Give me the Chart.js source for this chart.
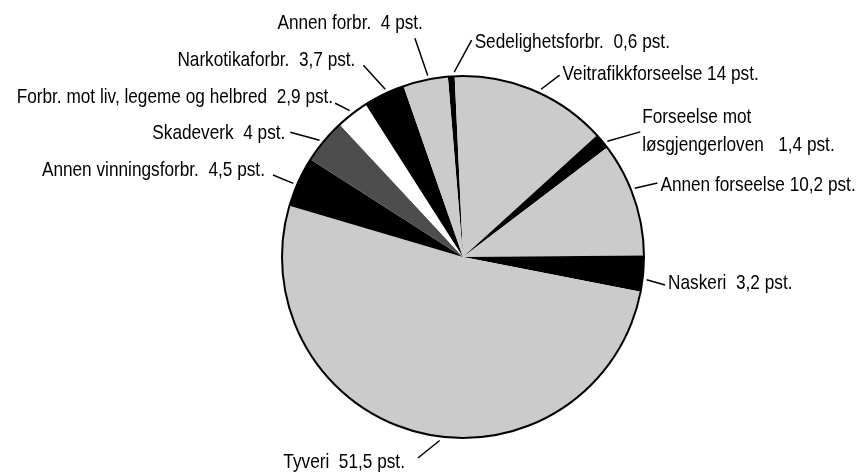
<!DOCTYPE html>
<html>
<head>
<meta charset="utf-8">
<script src="https://cdn.jsdelivr.net/npm/chart.js@4.4.1/dist/chart.umd.min.js"></script>
<style>
  html, body { margin: 0; padding: 0; background: #fff; }
  #wrap { width: 862px; height: 474px; position: relative; }
</style>
</head>
<body>
<div id="wrap"><canvas id="chart"></canvas></div>
<script>
// share of charged offences, per cent, clockwise from the top
const categories = ['Sedelighetsforbr.', 'Veitrafikkforseelse', 'Forseelse mot løsgjengerloven', 'Annen forseelse', 'Naskeri', 'Tyveri', 'Annen vinningsforbr.', 'Skadeverk', 'Forbr. mot liv, legeme og helbred', 'Narkotikaforbr.', 'Annen forbr.'];
const shares = [0.6, 14, 1.4, 10.2, 3.2, 51.5, 4.5, 4, 2.9, 3.7, 4];
const labelText = [
  ['Sedelighetsforbr.  0,6 pst.'],
  ['Veitrafikkforseelse 14 pst.'],
  ['Forseelse mot', 'løsgjengerloven   1,4 pst.'],
  ['Annen forseelse 10,2 pst.'],
  ['Naskeri  3,2 pst.'],
  ['Tyveri  51,5 pst.'],
  ['Annen vinningsforbr.  4,5 pst.'],
  ['Skadeverk  4 pst.'],
  ['Forbr. mot liv, legeme og helbred  2,9 pst.'],
  ['Narkotikaforbr.  3,7 pst.'],
  ['Annen forbr.  4 pst.']
];

const LIGHT = '#cbcbcb', BLACK = '#000000', DARK = '#4d4d4d', WHITE = '#ffffff';
const fills = [BLACK, LIGHT, BLACK, LIGHT, BLACK, LIGHT, BLACK, DARK, WHITE, BLACK, LIGHT];

// leader layout: [turn at rim (deg), turn at outer end (deg), length beyond rim]
const leaderSpec = [[1, 6, 36], [2.4, 5.4, 25], [1, 4.5, 36], [-3, -2, 27], [1.8, 2.6, 23], [-6.5, -1.1, 25],
  [-1.1, -1.2, 26], [-0.7, -4, 32], [0, -2, 19], [1, -1.6, 35], [1, -0.4, 43]];
const textNudge = [[3, 2], [3, -1], [2, -1], [3, 2], [3, -2], [-13, 4], [-8, -5], [-5, 1], [-2, -6], [-8, -5], [8, -15]];

const FONT = '21px "Liberation Sans", Arial, sans-serif';
const NARROW = 0.82;

const leaders = {
  id: 'leaders',
  afterDatasetsDraw(chart) {
    const ctx = chart.ctx;
    const meta = chart.getDatasetMeta(0);
    const rad = d => d * Math.PI / 180;
    ctx.save();
    // outer rim
    const a0 = meta.data[0];
    ctx.beginPath();
    ctx.arc(a0.x, a0.y, a0.outerRadius, 0, Math.PI * 2);
    ctx.lineWidth = 2;
    ctx.strokeStyle = '#000';
    ctx.stroke();

    ctx.font = FONT;
    ctx.fillStyle = '#000';
    ctx.lineWidth = 1.5;
    ctx.textBaseline = 'middle';
    meta.data.forEach((arc, i) => {
      const mid = (arc.startAngle + arc.endAngle) / 2;
      const [t1, t2, len] = leaderSpec[i];
      const r1 = arc.outerRadius + 4, r2 = arc.outerRadius + len;
      const x1 = arc.x + Math.cos(mid + rad(t1)) * r1, y1 = arc.y + Math.sin(mid + rad(t1)) * r1;
      const x2 = arc.x + Math.cos(mid + rad(t2)) * r2, y2 = arc.y + Math.sin(mid + rad(t2)) * r2;
      ctx.beginPath();
      ctx.moveTo(x1, y1);
      ctx.lineTo(x2, y2);
      ctx.stroke();
      const right = x2 >= arc.x;
      ctx.textAlign = right ? 'left' : 'right';
      const lines = labelText[i];
      const lh = 28;
      const tx = x2 + textNudge[i][0];
      const ty = y2 + textNudge[i][1] - (lines.length - 1) * lh / 2;
      lines.forEach((t, k) => {
        ctx.save();
        ctx.translate(tx, ty + k * lh);
        ctx.scale(NARROW, 1);
        ctx.fillText(t, 0, 0);
        ctx.restore();
      });
    });
    ctx.restore();
  }
};

new Chart(document.getElementById('chart'), {
  type: 'pie',
  data: {
    labels: categories,
    datasets: [{
      data: shares,
      backgroundColor: fills,
      borderWidth: 0
    }]
  },
  options: {
    responsive: true,
    maintainAspectRatio: false,
    animation: false,
    rotation: -4.8,
    layout: { padding: { left: 250, right: 186, top: 76, bottom: 36 } },
    plugins: {
      legend: { display: false },
      tooltip: { enabled: false }
    }
  },
  plugins: [leaders]
});
</script>
</body>
</html>
